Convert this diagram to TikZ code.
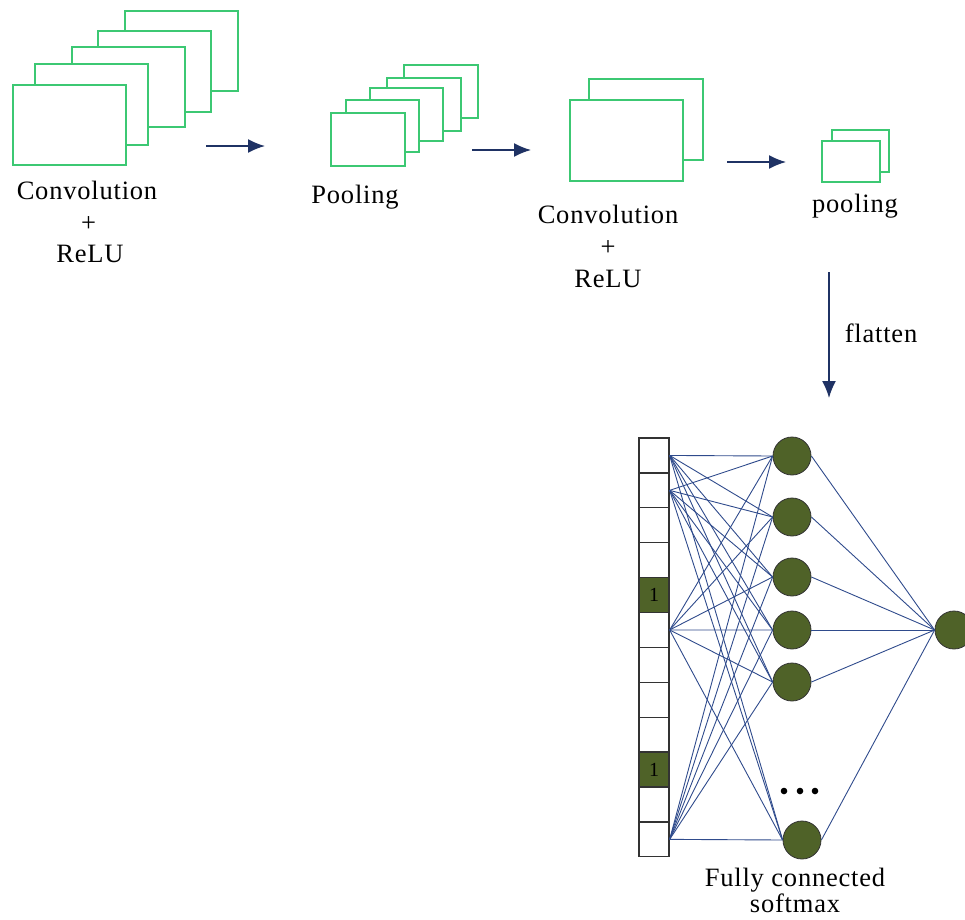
\documentclass[tikz,border=0pt]{standalone}
\usepackage{fontspec}
\setmainfont{Liberation Serif}[LetterSpace=3]
\usetikzlibrary{arrows.meta}
\definecolor{fmgreen}{RGB}{60,200,115}
\definecolor{navy}{RGB}{31,50,100}
\definecolor{wire}{RGB}{47,75,140}
\definecolor{olive}{RGB}{79,98,40}
\begin{document}
\begin{tikzpicture}[x=1pt,y=-1pt,
  fmap/.style={draw=fmgreen, line width=1.4pt, fill=white},
  lbl/.style={font=\fontsize{26.5}{30}\selectfont, anchor=base, inner sep=0pt},
  flow/.style={draw=navy, line width=1.6pt, -{Latex[length=17pt,width=14pt]}},
  cell/.style={draw=black!80, line width=1.3pt, fill=white, minimum width=30pt, minimum height=34.9pt, inner sep=0pt, font=\fontsize{20}{22}\selectfont},
  hot/.style={fill=olive},
  neuron/.style={circle, draw=black!80, fill=olive, line width=0.8pt, minimum size=38pt, inner sep=0pt},
  wireline/.style={draw=wire, line width=0.9pt}]
\useasboundingbox (0,0) rectangle (965,919);

% stack 1
\draw[fmap] (125,11) rectangle (238,91);
\draw[fmap] (98,31) rectangle (211,112);
\draw[fmap] (72,47) rectangle (185,127);
\draw[fmap] (35,64) rectangle (148,145);
\draw[fmap] (13,85) rectangle (126,165);
% stack 2
\draw[fmap] (404,65) rectangle (478,118);
\draw[fmap] (387,78) rectangle (461,131);
\draw[fmap] (370,88) rectangle (443,141);
\draw[fmap] (346,100) rectangle (419,152);
\draw[fmap] (331,113) rectangle (405,166);
% stack 3
\draw[fmap] (589,79) rectangle (703,160);
\draw[fmap] (570,100) rectangle (683,181);
% stack 4
\draw[fmap] (832,130) rectangle (889,172);
\draw[fmap] (822,141) rectangle (880,182);

% arrows
\coordinate (a1s) at (206,146); \coordinate (a1e) at (265,146);
\coordinate (a2s) at (472,150); \coordinate (a2e) at (531,150);
\coordinate (a3s) at (727,162); \coordinate (a3e) at (786,162);
\coordinate (fls) at (829,272); \coordinate (fle) at (829,398);
\draw[flow] (a1s) -- (a1e);
\draw[flow] (a2s) -- (a2e);
\draw[flow] (a3s) -- (a3e);
\draw[flow] (fls) -- (fle);

% labels
\node[lbl] (l1a) at (87,199) {Convolution};
\node[lbl] (l1b) at (88.5,231) {+};
\node[lbl] (l1c) at (90,262) {ReLU};
\node[lbl] (l2) at (355,203) {Pooling};
\node[lbl] (l3a) at (608,223) {Convolution};
\node[lbl] (l3b) at (608,255) {+};
\node[lbl] (l3c) at (608,287) {ReLU};
\node[lbl] (l4) at (855,212) {pooling};
\node[lbl] (lf) at (881,342) {flatten};
\node[lbl] (lfc) at (795,886) {Fully connected};
\node[lbl] (lsm) at (795,912) {softmax};

% flattened vector
\foreach \i in {1,...,12} {
  \node[cell] (c\i) at (654,{438+34.9*(\i-0.5)}) {};
}
\node[cell,hot] at (c5) {1};
\node[cell,hot] at (c10) {1};

% neurons
\node[neuron] (n1) at (792,456) {};
\node[neuron] (n2) at (792,517) {};
\node[neuron] (n3) at (792,577) {};
\node[neuron] (n4) at (792,630) {};
\node[neuron] (n5) at (792,682) {};
\node[neuron] (n6) at (802,840) {};
\node[neuron] (o) at (954,630) {};

% connections
\foreach \i in {1,2,6,12} {
  \foreach \j in {1,...,6} {
    \draw[wireline] (c\i.east) -- (n\j.west);
  }
}
\foreach \j in {1,...,6} {
  \draw[wireline] (n\j.east) -- (o.west);
}

% dots
\fill[black] (784,791) circle (3.3pt);
\fill[black] (800,791) circle (3.3pt);
\fill[black] (815,791) circle (3.3pt);
\end{tikzpicture}
\end{document}
